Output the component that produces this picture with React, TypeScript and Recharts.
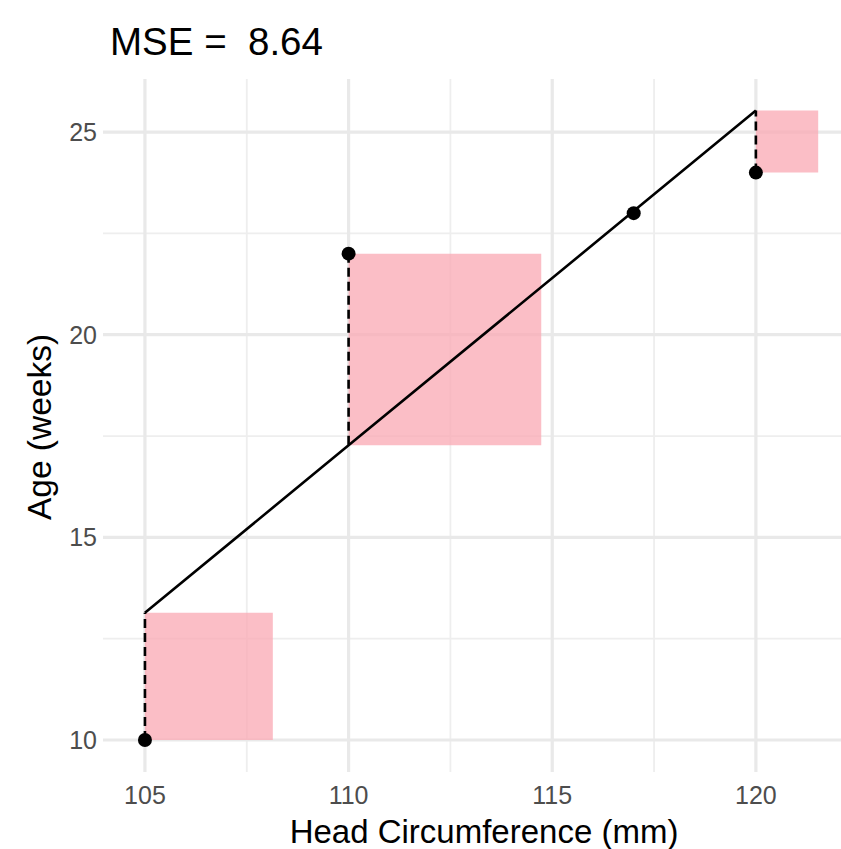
import React from "react";
import {
  ComposedChart,
  XAxis,
  YAxis,
  CartesianGrid,
  Line,
  Scatter,
  ReferenceArea,
  ReferenceLine,
} from "recharts";

// Observed measurements
const headCircumference = [105, 110, 117, 120];
const ageWeeks = [10, 22, 23, 24];
// Least-squares line evaluated at each observation
const fittedAge = [13.14, 17.27, 23.05, 25.53];
const mseText = "8.64";

// Axis breaks
const xMajor = [105, 110, 115, 120];
const xMinor = [107.5, 112.5, 117.5];
const yMajor = [10, 15, 20, 25];
const yMinor = [12.5, 17.5, 22.5];

const FONT = "'Liberation Sans', Arial, Helvetica, sans-serif";
const W = 841;
const H = 849;

const rows = headCircumference.map((x, i) => ({
  x,
  age: ageWeeks[i],
  fit: fittedAge[i],
}));

// Squared-residual boxes: side length equals the residual, drawn to the right of each point
const squares = rows.map((r) => {
  const side = Math.abs(r.fit - r.age);
  return {
    x1: r.x,
    x2: r.x + side,
    y1: Math.min(r.fit, r.age),
    y2: Math.max(r.fit, r.age),
  };
});

const Dot = (props: any) => {
  const { cx, cy } = props;
  if (cx == null || cy == null) return null;
  return <circle cx={cx} cy={cy} r={7} fill="#000" />;
};

export default function App() {
  return (
    <div
      style={{
        position: "absolute",
        left: 0,
        top: 0,
        width: W,
        height: H,
        background: "#fff",
        fontFamily: FONT,
      }}
    >
      <ComposedChart
        width={W}
        height={H}
        data={rows}
        margin={{ top: 79, right: 0, bottom: 0, left: 0 }}
      >
        <CartesianGrid
          stroke="#eeeeee"
          strokeWidth={1.8}
          horizontalValues={yMinor}
          verticalValues={xMinor}
        />
        <CartesianGrid
          stroke="#e9e9e9"
          strokeWidth={3.2}
          horizontalValues={yMajor}
          verticalValues={xMajor}
        />
        <XAxis
          type="number"
          dataKey="x"
          domain={[103.97, 122.09]}
          allowDataOverflow
          ticks={xMajor}
          axisLine={false}
          tickLine={false}
          tickSize={0}
          tickMargin={14}
          height={77}
          tick={{ fontSize: 25, fill: "#4d4d4d", fontFamily: FONT }}
        />
        <YAxis
          type="number"
          domain={[9.21, 26.31]}
          allowDataOverflow
          ticks={yMajor}
          axisLine={false}
          tickLine={false}
          tickSize={0}
          tickMargin={6}
          width={103}
          tick={{ fontSize: 25, fill: "#4d4d4d", fontFamily: FONT }}
        />
        {squares.map((s, i) => (
          <ReferenceArea
            key={"sq" + i}
            x1={s.x1}
            x2={s.x2}
            y1={s.y1}
            y2={s.y2}
            fill="#f9a8b3"
            fillOpacity={0.75}
            stroke="none"
            ifOverflow="visible"
          />
        ))}
        {rows.map((r, i) => (
          <ReferenceLine
            key={"res" + i}
            segment={[
              { x: r.x, y: r.age },
              { x: r.x, y: r.fit },
            ]}
            stroke="#000"
            strokeWidth={2.6}
            strokeDasharray="9 5"
            ifOverflow="visible"
          />
        ))}
        <Line
          dataKey="fit"
          stroke="#000"
          strokeWidth={2.6}
          dot={false}
          activeDot={false}
          isAnimationActive={false}
        />
        <Scatter dataKey="age" shape={<Dot />} isAnimationActive={false} />
      </ComposedChart>
      <svg
        width={W}
        height={H}
        style={{ position: "absolute", left: 0, top: 0, pointerEvents: "none" }}
      >
        <text
          x={110}
          y={55}
          fontSize={38.5}
          fill="#000"
          fontFamily={FONT}
          style={{ whiteSpace: "pre" }}
        >
          {"MSE =  " + mseText}
        </text>
        <text
          x={484}
          y={843}
          fontSize={33}
          fill="#000"
          textAnchor="middle"
          fontFamily={FONT}
        >
          Head Circumference (mm)
        </text>
        <text
          x={51}
          y={427}
          fontSize={33.5}
          fill="#000"
          textAnchor="middle"
          fontFamily={FONT}
          transform="rotate(-90 51 427)"
        >
          Age (weeks)
        </text>
      </svg>
    </div>
  );
}
